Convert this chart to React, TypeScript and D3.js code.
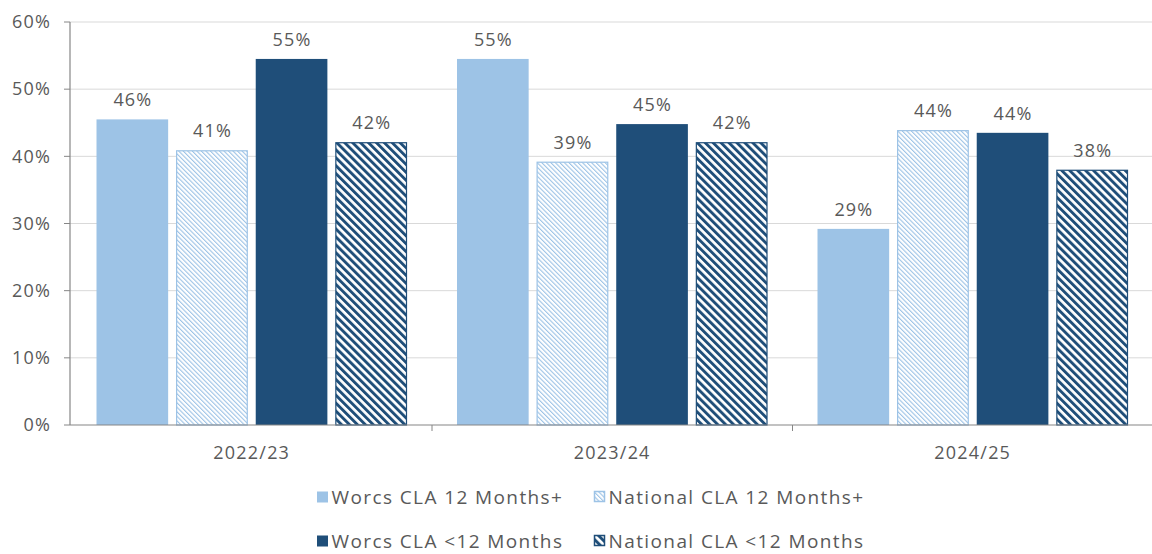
import * as d3 from 'd3'
import React from 'react'

const years = ['2022/23', '2023/24', '2024/25'];
const seriesNames = ['Worcs CLA 12 Months+', 'National CLA 12 Months+', 'Worcs CLA <12 Months', 'National CLA <12 Months'];
const worcs12Plus = [45.5, 54.5, 29.2];
const national12Plus = [40.9, 39.2, 43.9];
const worcsUnder12 = [54.5, 44.8, 43.5];
const nationalUnder12 = [42.1, 42.1, 38.0];
const yTicks = [0, 10, 20, 30, 40, 50, 60];

const LIGHT = '#9dc3e6';
const DARK = '#1f4e79';
const GREY = '#595959';
const FONT = '"Open Sans", sans-serif';

const fills = [LIGHT, 'url(#hatchLight)', DARK, 'url(#hatchDark)'];
const strokes = ['none', LIGHT, 'none', DARK];

const App = () => {
    const width = 1152;
    const height = 554;
    const margin = { top: 22, right: 2, bottom: 129, left: 70 };
    const innerWidth = width - margin.left - margin.right;
    const innerHeight = height - margin.top - margin.bottom;

    const allSeries = [worcs12Plus, national12Plus, worcsUnder12, nationalUnder12];

    // groups are ~360px wide, slightly offset from the axis
    const x0 = d3.scaleBand().domain(years).range([1.5, 1.5 + 3 * 360.5]);
    const x1 = d3.scaleBand<number>().domain([0, 1, 2, 3]).range([25, x0.bandwidth() - 25]).paddingInner(0.1);
    const y = d3.scaleLinear().domain([0, 60]).range([innerHeight, 0]);

    const labelStyle = { fontFamily: FONT, fontSize: 18, letterSpacing: 1.2, fill: GREY };

    return (
        <svg width={width} height={height} style={{ position: 'absolute', left: 0, top: 0, background: '#fff' }}>
            <defs>
                <pattern id="hatchLight" width={3.2} height={3.2} patternUnits="userSpaceOnUse" patternTransform="rotate(-45)">
                    <rect width={3.2} height={3.2} fill="#fff" />
                    <rect width={1.1} height={3.2} fill={LIGHT} />
                </pattern>
                <pattern id="hatchDark" width={5.6} height={5.6} patternUnits="userSpaceOnUse" patternTransform="rotate(-45)">
                    <rect width={5.6} height={5.6} fill="#fff" />
                    <rect width={2.9} height={5.6} fill={DARK} />
                </pattern>
            </defs>
            <g transform={`translate(${margin.left},${margin.top})`}>
                {yTicks.map(t => (
                    <g key={t} transform={`translate(0,${y(t)})`}>
                        {t > 0 && <line x1={0} x2={innerWidth + 2} stroke="#d9d9d9" strokeWidth={1} />}
                        <line x1={-6} x2={0} stroke="#868686" />
                        <text x={-19} dy="0.35em" textAnchor="end" style={labelStyle}>{t}%</text>
                    </g>
                ))}
                {years.map((yr, i) => (
                    <g key={yr} transform={`translate(${x0(yr)},0)`}>
                        {allSeries.map((s, j) => {
                            const bx = x1(j)!;
                            const bw = x1.bandwidth();
                            const top = y(s[i]);
                            const hatched = strokes[j] !== 'none';
                            return (
                                <g key={j}>
                                    <rect x={bx + (hatched ? 0.5 : 0)} y={top + (hatched ? 0.5 : 0)}
                                        width={bw - (hatched ? 1 : 0)} height={innerHeight - top - (hatched ? 0.5 : 0)}
                                        fill={fills[j]} stroke={strokes[j]} strokeWidth={1.2} />
                                    <text x={bx + bw / 2 + 0.6} y={top - 13} textAnchor="middle" style={labelStyle}>
                                        {Math.round(s[i])}%
                                    </text>
                                </g>
                            );
                        })}
                        <text x={x0.bandwidth() / 2} y={innerHeight + 34} textAnchor="middle" style={labelStyle}>{yr}</text>
                    </g>
                ))}
                {years.map(yr => (
                    <line key={yr} x1={x0(yr)! + x0.bandwidth()} x2={x0(yr)! + x0.bandwidth()} y1={innerHeight} y2={innerHeight + 6} stroke="#868686" />
                ))}
                <line x1={0} x2={0} y1={0} y2={innerHeight} stroke="#868686" strokeWidth={1.2} />
                <line x1={0} x2={innerWidth + 2} y1={innerHeight} y2={innerHeight} stroke="#868686" strokeWidth={1.2} />
            </g>
            <g style={{ fontFamily: FONT, fontSize: 19, letterSpacing: 1.4, fill: GREY }}>
                {seriesNames.map((name, k) => {
                    const col = k % 2;
                    const row = Math.floor(k / 2);
                    const lx = col === 0 ? 317 : 594;
                    const ly = row === 0 ? 497 : 541;
                    const hatched = strokes[k] !== 'none';
                    return (
                        <g key={name} transform={`translate(${lx},${ly})`}>
                            <rect x={hatched ? 0.5 : 0} y={-5.5} width={hatched ? 10 : 11} height={hatched ? 10 : 11}
                                fill={fills[k]} stroke={strokes[k]} strokeWidth={1.5} />
                            <text x={14.5} dy="0.35em">{name}</text>
                        </g>
                    );
                })}
            </g>
        </svg>
    );
};

export default App;
